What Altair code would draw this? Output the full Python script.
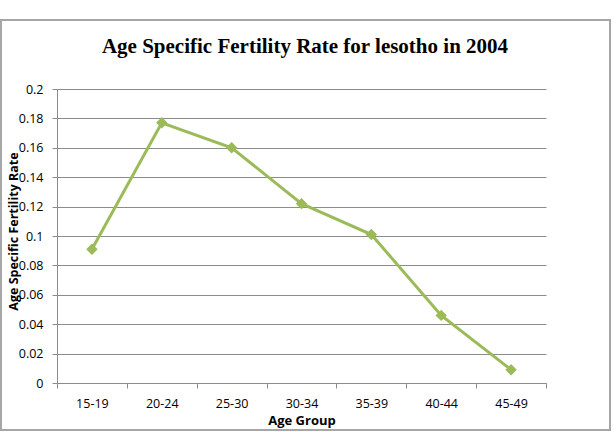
import altair as alt
import pandas as pd

age_groups = ["15-19", "20-24", "25-30", "30-34", "35-39", "40-44", "45-49"]
rates = [0.091, 0.177, 0.160, 0.122, 0.101, 0.046, 0.009]
y_ticks = [0, 0.02, 0.04, 0.06, 0.08, 0.1, 0.12, 0.14, 0.16, 0.18, 0.2]
chart_title = ["Age Specific Fertility Rate for lesotho in 2004"]

df = pd.DataFrame({"group": age_groups, "rate": rates})
title_df = pd.DataFrame({"t": chart_title})

LINE = "#9BBB59"
GRID = "#8c8c8c"
FONT = "Open Sans"

x_enc = alt.X(
    "group:N",
    sort=age_groups,
    bandPosition=0.5,
    scale=alt.Scale(type="band", paddingInner=0, paddingOuter=0),
    axis=alt.Axis(
        title="Age Group",
        labelAngle=0,
        tickBand="extent",
        tickSize=5,
        tickColor=GRID,
        domainColor=GRID,
        labelFont=FONT,
        labelFontSize=12.5,
        labelColor="#000000",
        labelPadding=9,
        titleFont=FONT,
        titleFontSize=13,
        titleFontWeight="bold",
        titleColor="#000000",
        titleY=41,
        titleBaseline="alphabetic",
        grid=False,
    ),
)
y_enc = alt.Y(
    "rate:Q",
    scale=alt.Scale(domain=[0, 0.2], nice=False),
    axis=alt.Axis(
        title="Age Specific Fertility Rate",
        values=y_ticks,
        format="~g",
        tickSize=5,
        tickColor=GRID,
        domainColor=GRID,
        gridColor=GRID,
        gridWidth=1,
        labelFont=FONT,
        labelFontSize=12.5,
        labelColor="#000000",
        labelPadding=9,
        titleFont=FONT,
        titleFontSize=12.5,
        titleFontWeight="bold",
        titleColor="#000000",
        titleAngle=-90,
        titleX=-44,
        titleY=142,
        titleAlign="center",
        titleBaseline="middle",
    ),
)

frame = alt.Chart(df).mark_rect(
    fill=None, fillOpacity=0, stroke="#a6a6a6", strokeWidth=2
).encode(
    x=alt.value(-56), x2=alt.value(553), y=alt.value(-69), y2=alt.value(341)
).transform_filter("datum.group == '15-19'")

title = alt.Chart(title_df).mark_text(
    font="Liberation Serif",
    fontSize=21,
    fontWeight="bold",
    color="#000000",
    align="center",
    baseline="alphabetic",
).encode(text="t:N", x=alt.value(248), y=alt.value(-36))

line = alt.Chart(df).mark_line(color=LINE, strokeWidth=3).encode(x=x_enc, y=y_enc)
points = alt.Chart(df).mark_point(
    shape="diamond", filled=True, color=LINE, size=130, opacity=1
).encode(x=x_enc, y=y_enc)

chart = alt.layer(frame, title, line, points).properties(
    width=489,
    height=294,
    autosize=alt.AutoSizeParams(type="none"),
    padding={"left": 57, "top": 89, "right": 70, "bottom": 49},
    background="white",
).configure_view(strokeWidth=0)

chart.save("out.html", embed_options={"renderer": "svg", "actions": False})
